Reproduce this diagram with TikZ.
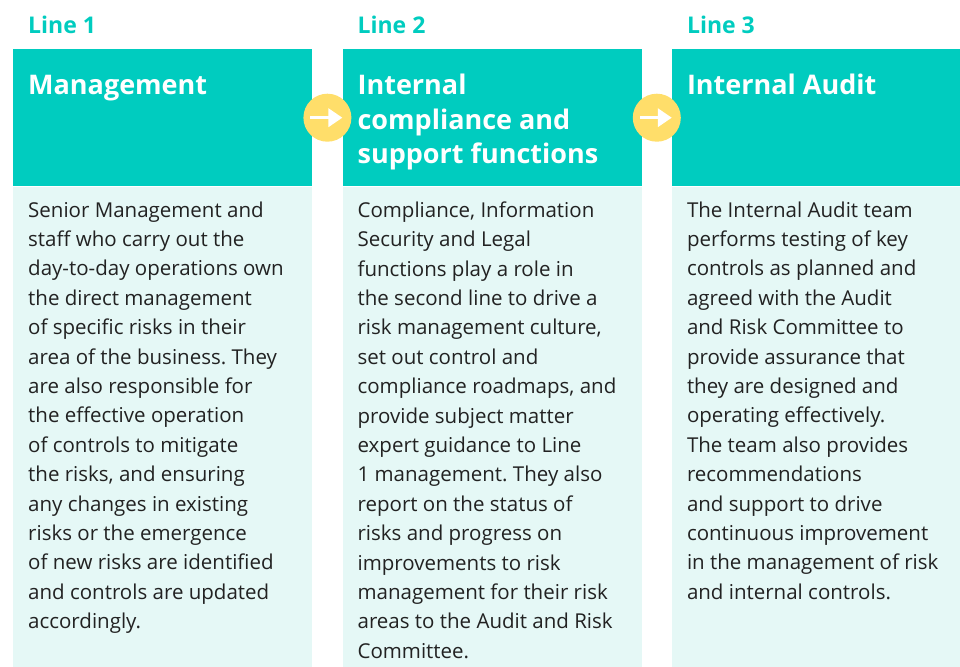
\documentclass[tikz,border=0pt]{standalone}
\usepackage{fontspec}
\setmainfont{Open Sans}
\frenchspacing
\usetikzlibrary{arrows.meta,positioning,calc}
\definecolor{linesteal}{HTML}{00CCBF}
\definecolor{linesmint}{HTML}{E5F8F6}
\definecolor{linesgold}{HTML}{FFDE6A}
\definecolor{linesink}{HTML}{222222}
\newcommand{\firstline}{\rule{0pt}{20pt}}

\begin{document}
\begin{tikzpicture}[
  node distance=0pt and 30pt,
  headbox/.style={fill=linesteal,draw=none,minimum width=299pt,
              minimum height=137pt,inner sep=0pt},
  bodybox/.style={fill=linesmint,draw=none,minimum width=299pt,
              minimum height=480pt,inner sep=0pt},
  linelbl/.style={font=\fontsize{23}{26}\selectfont\bfseries,text=linesteal,
              inner sep=0pt,anchor=base west},
  headtxt/.style={font=\fontsize{27}{34.5}\selectfont\bfseries,text=white,
              align=left,inner sep=0pt,anchor=north west,
              execute at begin node=\firstline},
  bodytxt/.style={font=\fontsize{20.5}{29.4}\selectfont,text=linesink,
              align=left,inner sep=0pt,anchor=north west,
              execute at begin node=\firstline},
  stepdot/.style={circle,fill=linesgold,minimum size=48pt,inner sep=0pt},
  arrw/.style={-{Triangle[length=14pt,width=18pt]},line width=3.5pt,white}]

  \useasboundingbox (0,0) rectangle (960pt,-666pt);

  % three columns
  \node[headbox,anchor=north west] (hd1) at (13pt,-49pt) {};
  \node[headbox,right=of hd1] (hd2) {};
  \node[headbox,right=of hd2] (hd3) {};
  \node[bodybox,below=of hd1] (bd1) {};
  \node[bodybox,below=of hd2] (bd2) {};
  \node[bodybox,below=of hd3] (bd3) {};

  % labels above
  \node[linelbl] (ln1) at ([xshift=15pt,yshift=15pt]hd1.north west) {Line 1};
  \node[linelbl] (ln2) at ([xshift=15pt,yshift=15pt]hd2.north west) {Line 2};
  \node[linelbl] (ln3) at ([xshift=15pt,yshift=15pt]hd3.north west) {Line 3};

  % header texts
  \node[headtxt] (ht1) at ([xshift=15pt,yshift=-25pt]hd1.north west) {Management};
  \node[headtxt] (ht2) at ([xshift=15pt,yshift=-25pt]hd2.north west)
    {Internal\\compliance and\\support functions};
  \node[headtxt] (ht3) at ([xshift=15pt,yshift=-25pt]hd3.north west) {Internal Audit};

  % body texts
  \node[bodytxt] (bt1) at ([xshift=15pt,yshift=-15pt]bd1.north west)
    {Senior Management and\\staff who carry out the\\day-to-day operations own\\
     the direct management\\of specific risks in their\\area of the business. They\\
     are also responsible for\\the effective operation\\of controls to mitigate\\
     the risks, and ensuring\\any changes in existing\\risks or the emergence\\
     of new risks are identified\\and controls are updated\\accordingly.};
  \node[bodytxt] (bt2) at ([xshift=15pt,yshift=-15pt]bd2.north west)
    {Compliance, Information\\Security and Legal\\functions play a role in\\
     the second line to drive a\\risk management culture,\\set out control and\\
     compliance roadmaps, and\\provide subject matter\\expert guidance to Line\\
     1 management. They also\\report on the status of\\risks and progress on\\
     improvements to risk\\management for their risk\\areas to the Audit and Risk\\
     Committee.};
  \node[bodytxt] (bt3) at ([xshift=15pt,yshift=-15pt]bd3.north west)
    {The Internal Audit team\\performs testing of key\\controls as planned and\\
     agreed with the Audit\\and Risk Committee to\\provide assurance that\\
     they are designed and\\operating effectively.\\The team also provides\\
     recommendations\\and support to drive\\continuous improvement\\
     in the management of risk\\and internal controls.};

  % arrows between lines
  \node[stepdot] (dot1) at ($(hd1.east)!0.5!(hd2.west)$) {};
  \node[stepdot] (dot2) at ($(hd2.east)!0.5!(hd3.west)$) {};
  \draw[arrw] ([xshift=-17pt]dot1.center) -- ([xshift=15pt]dot1.center);
  \draw[arrw] ([xshift=-17pt]dot2.center) -- ([xshift=15pt]dot2.center);
\end{tikzpicture}
\end{document}
